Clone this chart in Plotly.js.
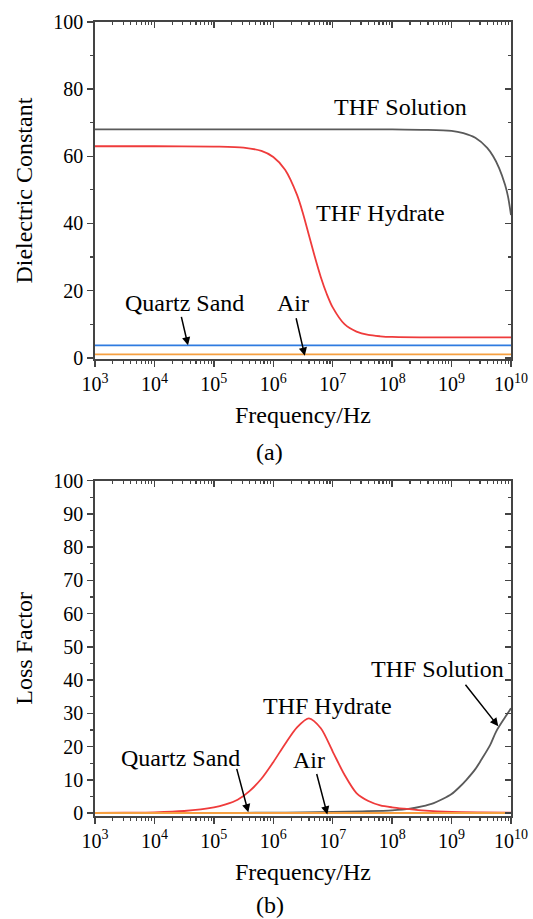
<!DOCTYPE html>
<html>
<head>
<meta charset="utf-8">
<script src="https://cdn.plot.ly/plotly-3.0.1.min.js"></script>
<style>html,body{margin:0;padding:0;background:#fff;}#chart{width:533px;height:919px;}</style>
</head>
<body>
<div id="chart"></div>
<script>
// ---- data ----
var decadeTicks = [1e3, 1e4, 1e5, 1e6, 1e7, 1e8, 1e9, 1e10];
var decadeLabels = ['10<sup>3</sup>','10<sup>4</sup>','10<sup>5</sup>','10<sup>6</sup>','10<sup>7</sup>','10<sup>8</sup>','10<sup>9</sup>','10<sup>10</sup>'];

// (a) Dielectric constant
var hydEpsFreq = [1e3, 1e4, 1e5, 3.16e5, 6.31e5, 1e6, 1.58e6, 2.51e6, 3.16e6, 3.98e6, 5.01e6, 6.31e6, 7.94e6, 1e7, 1.58e7, 2.51e7, 3.98e7, 6.31e7, 1e8, 3.16e8, 1e9, 1e10];
var hydEps     = [63,  63,  62.9, 62.6, 61.6, 59.8, 56,   48.5,  43,    36.5,  30,    24,    19,    15,  10,     7.8,   6.8,   6.4,   6.2, 6.1,   6.1, 6.1];
var solEpsFreq = [1e3, 1e5, 1e7, 1e8, 3.16e8, 1e9, 1.58e9, 2.51e9, 3.98e9, 5.01e9, 6.31e9, 7.94e9, 8.91e9, 1e10];
var solEps     = [68,  68,  68,  68,  67.9,   67.6, 66.9,  65.5,   62.5,   60,     56.5,   51.5,   48,     42.5];
var sandEpsFreq = [1e3, 1e10];
var sandEps     = [3.7, 3.7];
var airEpsFreq  = [1e3, 1e10];
var airEps      = [1.0, 1.0];

// (b) Loss factor
var hydLossFreq = [1e3, 3.16e3, 1e4, 3.16e4, 1e5, 1.58e5, 2.51e5, 3.98e5, 6.31e5, 1e6, 1.58e6, 2.51e6, 3.98e6, 6.31e6, 1e7, 1.58e7, 2.51e7, 3.98e7, 6.31e7, 1e8, 1.58e8, 3.16e8, 1e9, 3.16e9, 1e10];
var hydLoss     = [0.05, 0.1,  0.2, 0.6,    1.7, 2.6,    4.0,    6.6,    10.3,   15.3, 20.8,  25.8,   28.5,   25.5,   18.5, 11.5,  6.0,    3.6,    2.3,    1.7, 1.3,    0.8,    0.3, 0.15,   0.1];
var solLossFreq = [1e3, 1e4, 1e5, 1e6, 3.16e6, 1e7, 3.16e7, 1e8, 2e8, 3.16e8, 5.01e8, 7.08e8, 1e9, 1.32e9, 1.78e9, 2.51e9, 3.16e9, 4.47e9, 5.62e9, 7.94e9, 1e10];
var solLoss     = [0,   0.01, 0.05, 0.1, 0.2,  0.3, 0.5,    0.8, 1.3, 2.0,    3.0,    4.2,    5.7, 7.6,    10,     13.2,   16,     20.5,   24.5,   28.8,   31.5];
var sandLossFreq = [1e3, 1e10];
var sandLoss     = [0.05, 0.05];
var airLossFreq  = [1e3, 1e10];
var airLoss      = [0, 0];

var FONT = 'Liberation Serif';
var AX = '#444';
var cGray = '#5a5a5a', cRed = '#ef3b3b', cBlue = '#2f7be0', cOrange = '#f6a040';

function line(x, y, color, xa, ya) {
  return {type:'scatter', mode:'lines', x:x, y:y, xaxis:xa, yaxis:ya,
          line:{color:color, width:1.8, shape:'spline', smoothing:0.8},
          showlegend:false, hoverinfo:'skip'};
}

var traces = [
  line(solEpsFreq, solEps, cGray, 'x', 'y'),
  line(hydEpsFreq, hydEps, cRed, 'x', 'y'),
  line(sandEpsFreq, sandEps, cBlue, 'x', 'y'),
  line(airEpsFreq, airEps, cOrange, 'x', 'y'),
  line(solLossFreq, solLoss, cGray, 'x2', 'y2'),
  line(hydLossFreq, hydLoss, cRed, 'x2', 'y2'),
  line(sandLossFreq, sandLoss, cBlue, 'x2', 'y2'),
  line(airLossFreq, airLoss, cOrange, 'x2', 'y2'),
  {type:'scatter', x:[], y:[], xaxis:'x3', yaxis:'y3', showlegend:false, hoverinfo:'skip'},
  {type:'scatter', x:[], y:[], xaxis:'x4', yaxis:'y4', showlegend:false, hoverinfo:'skip'}
];

function xMain(anchor) {
  return {type:'log', range:[3,10], anchor:anchor, domain:[0,1],
    tickmode:'array', tickvals:decadeTicks, ticktext:decadeLabels,
    ticks:'outside', ticklen:6, tickwidth:1.5, tickcolor:AX,
    minor:{tickmode:'linear', dtick:'D1', ticks:'outside', ticklen:3, tickwidth:1.2, tickcolor:AX, showgrid:false},
    showline:true, linecolor:AX, linewidth:1.8, mirror:true,
    showgrid:false, zeroline:false,
    tickfont:{family:FONT, size:20, color:'#000'},
    title:{text:'Frequency/Hz', font:{family:FONT, size:24, color:'#000'}, standoff:12}};
}
function xMirror(over, anchor) {
  return {type:'log', range:[3,10], overlaying:over, anchor:anchor, side:'top',
    tickmode:'array', tickvals:decadeTicks, showticklabels:false,
    ticks:'inside', ticklen:6, tickwidth:1.5, tickcolor:AX,
    minor:{tickmode:'linear', dtick:'D1', ticks:'inside', ticklen:3, tickwidth:1.2, tickcolor:AX, showgrid:false},
    showline:false, showgrid:false, zeroline:false};
}
function yMain(anchor, domain, range, dtick, minorDtick, title) {
  return {range:range, domain:domain, anchor:anchor,
    tick0:0, dtick:dtick, ticks:'outside', ticklen:6, tickwidth:1.5, tickcolor:AX,
    minor:{tick0:0, dtick:minorDtick, ticks:'outside', ticklen:3, tickwidth:1.2, tickcolor:AX, showgrid:false},
    showline:true, linecolor:AX, linewidth:1.8, mirror:true,
    showgrid:false, zeroline:false,
    tickfont:{family:FONT, size:20, color:'#000'},
    title:{text:title, font:{family:FONT, size:24, color:'#000'}, standoff:14}};
}
function yMirror(over, anchor, range, dtick, minorDtick) {
  return {range:range, overlaying:over, anchor:anchor, side:'right',
    tick0:0, dtick:dtick, showticklabels:false,
    ticks:'inside', ticklen:6, tickwidth:1.5, tickcolor:AX,
    minor:{tick0:0, dtick:minorDtick, ticks:'inside', ticklen:3, tickwidth:1.2, tickcolor:AX, showgrid:false},
    showline:false, showgrid:false, zeroline:false};
}

var topRange = [-0.45, 100], botRange = [-0.9, 100];
var txt = {family:FONT, size:24, color:'#000'};
function label(text, xa, ya, lx, y) {
  return {text:text, xref:xa, yref:ya, x:lx, y:y, showarrow:false, font:txt, xanchor:'center', yanchor:'middle'};
}
function arrow(xa, ya, lx, y, ax, ay) {
  return {text:'', xref:xa, yref:ya, x:lx, y:y, ax:ax, ay:ay, showarrow:true,
          arrowhead:2, arrowsize:1.1, arrowwidth:1.5, arrowcolor:'#000', standoff:0, startstandoff:0};
}

var layout = {
  width:533, height:919,
  margin:{l:95, r:22, t:22, b:102.5},
  paper_bgcolor:'#fff', plot_bgcolor:'#fff',
  font:{family:FONT, color:'#000'},
  showlegend:false,
  xaxis: xMain('y'),
  yaxis: yMain('x', [0.5752, 1], topRange, 20, 10, 'Dielectric Constant'),
  xaxis2: xMain('y2'),
  yaxis2: yMain('x2', [0, 0.4223], botRange, 10, 5, 'Loss Factor'),
  xaxis3: xMirror('x', 'y'),
  yaxis3: yMirror('y', 'x', topRange, 20, 10),
  xaxis4: xMirror('x2', 'y2'),
  yaxis4: yMirror('y2', 'x2', botRange, 10, 5),
  annotations: [
    label('THF Solution', 'x', 'y', 8.14, 74.7),
    label('THF Hydrate', 'x', 'y', 7.80, 43.2),
    label('Quartz Sand', 'x', 'y', 4.506, 16.4),
    label('Air', 'x', 'y', 6.33, 16.4),
    arrow('x', 'y', 4.565, 3.7, -7, -30),
    arrow('x', 'y', 6.53, 0.6, -9, -39),
    label('THF Solution', 'x2', 'y2', 8.763, 43.4),
    label('THF Hydrate', 'x2', 'y2', 6.912, 32.1),
    label('Quartz Sand', 'x2', 'y2', 4.447, 16.6),
    label('Air', 'x2', 'y2', 6.60, 16.1),
    arrow('x2', 'y2', 9.786, 26.1, -34, -43),
    arrow('x2', 'y2', 5.58, 0.2, -12, -45),
    arrow('x2', 'y2', 6.909, -0.45, -11, -42),
    {text:'(a)', xref:'paper', yref:'paper', x:0.42, y:0.4588, showarrow:false, font:txt, xanchor:'center', yanchor:'middle'},
    {text:'(b)', xref:'paper', yref:'paper', x:0.42, y:-0.1127, showarrow:false, font:txt, xanchor:'center', yanchor:'middle'}
  ]
};

Plotly.newPlot('chart', traces, layout, {staticPlot:true, displayModeBar:false});
</script>
</body>
</html>
